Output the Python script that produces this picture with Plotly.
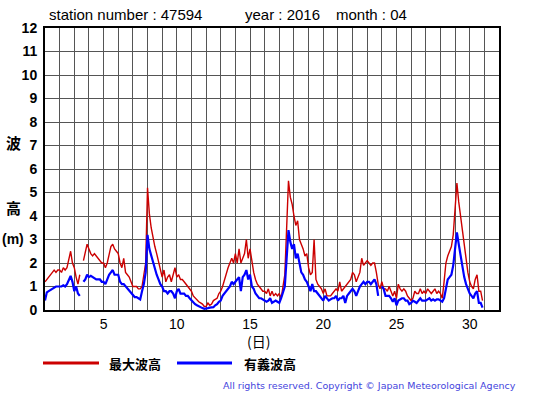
import plotly.graph_objects as go

# ---- data (3-hourly readings, April 2016) ----
days = list(range(1, 31))
steps_per_day = 8

max_wave = [
    1.2, 1.3, 1.4, 1.5, 1.6, 1.7, 1.6, 1.7,
    1.7, 1.6, 1.8, 1.7, 1.8, 2.1, 2.5, 2.0,
    1.8, 1.4, 1.1, 1.5, None, 2.1, 2.4, 2.8,
    2.6, 2.4, 2.3, 2.4, 2.3, 2.2, 2.1, 2.0,
    2.0, 1.8, 2.0, 2.4, 2.7, 2.8, 2.6, 2.5,
    2.4, 2.0, 1.8, 2.2, 1.6, 1.5, 1.4, 1.2,
    1.0, 1.0, 1.0, 0.9, 0.9, 1.0, 1.5, 2.0,
    5.2, 4.1, 3.5, 3.0, 2.7, 2.4, 2.1, 1.8,
    1.4, 1.7, 1.2, 1.4, 1.5, 1.2, 1.5, 1.8,
    1.4, 1.5, 1.3, 1.3, 1.2, 1.1, 1.0, 0.9,
    0.8, 0.6, 0.5, 0.4, 0.35, 0.3, 0.25, 0.15,
    0.15, 0.3, 0.2, 0.25, 0.4, 0.45, 0.5, 0.7,
    0.8, 1.0, 1.3, 1.6, 1.8, 2.0, 2.2, 2.0,
    2.4, 2.0, 2.6, 2.0, 2.2, 2.4, 3.0, 2.2,
    2.6, 2.0, 1.6, 1.3, 1.1, 1.0, 0.9, 0.8,
    0.8, 0.7, 0.9, 0.6, 0.8, 0.6, 0.7, 0.6,
    0.7, 0.5, 1.0, 1.5, 3.5, 5.5, 4.8, 4.5,
    4.0, 3.6, 3.8, 3.0, 2.8, 2.6, 2.3, 2.4,
    1.8, 1.5, 1.6, 3.0, 1.3, 1.1, 1.0, 0.9,
    0.7, 0.9, 0.6, 0.6, 0.6, 0.7, 0.8, 0.9,
    0.8, 1.2, 0.8, 0.9, 1.0, 1.1, 1.2, 1.3,
    1.6, 1.5, 1.2, 1.4, 1.6, 2.2, 1.9, 2.0,
    2.1, 2.0, 1.9, 2.0, 2.0, 1.6, 1.1, 0.9,
    1.2, 0.9, 0.9, 0.8, 1.0, 0.8, 0.6, 0.8,
    0.5, 1.1, 0.9, 0.8, 0.9, 0.8, 0.6, 0.5,
    0.4, 0.5, 0.8, 0.7, 0.7, 0.9, 0.7, 0.8,
    0.7, 0.9, 0.8, 0.7, 0.8, 0.9, 0.7, 0.8,
    0.7, 0.5, 1.2, 2.0, 2.3, 2.5, 2.7, 3.2,
    4.3, 5.4, 4.6, 4.0, 3.3, 2.6, 2.0, 1.6,
    1.2, 1.0, 0.9, 1.3, 1.5, 0.8, 0.8, 0.4,
]

sig_wave = [
    0.4, 0.75, 0.8, 0.85, 0.9, 0.95, 1.0, 1.0,
    1.0, 1.0, 1.05, 1.0, 1.1, 1.3, 1.45, 1.2,
    0.8, 1.0, 0.7, 0.6, None, 1.2, 1.3, 1.5,
    1.4, 1.45, 1.4, 1.35, 1.3, 1.3, 1.3, 1.2,
    1.2, 1.1, 1.3, 1.5, 1.6, 1.7, 1.5, 1.5,
    1.5, 1.2, 1.1, 1.1, 1.0, 0.9, 0.8, 0.7,
    0.6, 0.55, 0.55, 0.5, 0.45, 0.8, 1.1, 1.6,
    3.2, 2.6, 2.3, 2.0, 1.8, 1.5, 1.3, 1.1,
    1.0, 0.8, 0.8, 0.7, 0.8, 0.8, 0.7, 0.5,
    0.8, 0.9, 0.7, 0.7, 0.7, 0.6, 0.6, 0.5,
    0.4, 0.3, 0.25, 0.2, 0.15, 0.1, 0.08, 0.05,
    0.05, 0.08, 0.1, 0.1, 0.12, 0.2, 0.25, 0.35,
    0.4, 0.6, 0.7, 0.8, 0.9, 1.0, 1.2, 1.1,
    1.2, 1.3, 1.4, 0.8, 1.4, 1.5, 1.7, 1.3,
    1.5, 1.0, 0.9, 0.7, 0.6, 0.5, 0.5, 0.45,
    0.4, 0.35, 0.4, 0.5, 0.3, 0.35, 0.4, 0.35,
    0.3, 0.5, 0.8, 1.0, 2.2, 3.4, 2.9, 2.6,
    2.8, 2.2, 2.4, 1.9, 1.6, 1.5, 1.3, 1.2,
    1.0, 0.8, 1.1, 0.8, 0.8, 0.7, 0.6, 0.5,
    0.4, 0.6, 0.5, 0.4, 0.45, 0.5, 0.5, 0.6,
    0.4, 0.5, 0.5, 0.6, 0.3, 0.6, 0.7, 0.8,
    0.9, 0.8, 0.6, 0.8, 1.0, 1.1, 1.2, 1.1,
    1.2, 1.2, 1.1, 1.2, 1.3, 1.1, 0.6, None,
    1.0, 0.9, 0.6, 0.6, 0.6, 0.5, 0.35, 0.5,
    0.2, 0.4, 0.45, 0.5, 0.5, 0.4, 0.4, 0.25,
    0.3, 0.4, 0.35, 0.3, 0.4, 0.5, 0.4, 0.4,
    0.4, 0.45, 0.5, 0.4, 0.45, 0.4, 0.45, 0.45,
    0.4, 0.35, 0.5, 1.0, 1.3, 1.4, 1.5, 1.9,
    2.7, 3.3, 2.8, 2.3, 2.0, 1.4, 1.1, 0.9,
    0.7, 0.6, 0.5, 0.7, 0.8, 0.3, 0.3, 0.1,
]

x_tick_vals = [5, 10, 15, 20, 25, 30]
y_tick_vals = list(range(0, 13))
series_names = ["最大波高", "有義波高"]
title_parts = ["station number : 47594", "year : 2016", "month : 04"]
copyright_text = "All rights reserved. Copyright © Japan Meteorological Agency"

# time axis in days (day + fraction)
times = [d + k / steps_per_day for d in days for k in range(steps_per_day)]

RED = "#cc0000"
BLUE = "#0000ff"
W, H = 555, 395
L, R, T, B = 45, 499, 28, 310


def px(x):
    return (x - L) / (R - L)


def py(y):
    return (B - y) / (B - T)


fig = go.Figure()
fig.add_trace(go.Scatter(x=times, y=max_wave, mode="lines", name=series_names[0],
                         line=dict(color=RED, width=1.4), connectgaps=False,
                         showlegend=False))
fig.add_trace(go.Scatter(x=times, y=sig_wave, mode="lines", name=series_names[1],
                         line=dict(color=BLUE, width=2.2), connectgaps=False,
                         showlegend=False))

grid_col = "#555555"
fig.update_xaxes(range=[1, 32], tick0=0, dtick=5, tickvals=x_tick_vals,
                 showgrid=True, gridcolor=grid_col, gridwidth=1,
                 minor=dict(dtick=1, tick0=0, showgrid=True, gridcolor=grid_col, gridwidth=1),
                 showline=True, linecolor="black", linewidth=2, mirror=True,
                 ticks="", zeroline=False,
                 tickfont=dict(family="Liberation Sans, Arial", size=14, color="black"))
fig.update_yaxes(range=[0, 12], tickvals=y_tick_vals, dtick=1,
                 showgrid=True, gridcolor=grid_col, gridwidth=1,
                 showline=True, linecolor="black", linewidth=2, mirror=True,
                 ticks="", zeroline=False, ticklabelstandoff=3,
                 tickfont=dict(family="Liberation Sans, Arial", size=14, color="black",
                               weight="bold"))

ann = []
title_x = [47, 243, 334]
for t, xx in zip(title_parts, title_x):
    ann.append(dict(text=t, x=px(xx), y=py(15), xref="paper", yref="paper",
                    xanchor="left", yanchor="middle", showarrow=False,
                    font=dict(family="Liberation Sans, Arial", size=15, color="black")))

cjk = "Noto Sans CJK JP"
ann.append(dict(text="波", x=px(13), y=py(142), xref="paper", yref="paper",
                xanchor="center", yanchor="middle", showarrow=False,
                font=dict(family=cjk, size=15, color="black", weight="bold")))
ann.append(dict(text="高", x=px(13), y=py(207), xref="paper", yref="paper",
                xanchor="center", yanchor="middle", showarrow=False,
                font=dict(family=cjk, size=15, color="black", weight="bold")))
ann.append(dict(text="(m)", x=px(13), y=py(239), xref="paper", yref="paper",
                xanchor="center", yanchor="middle", showarrow=False,
                font=dict(family="Liberation Sans, Arial", size=14, color="black", weight="bold")))
ann.append(dict(text="(日)", x=px(258), y=py(341), xref="paper", yref="paper",
                xanchor="center", yanchor="middle", showarrow=False,
                font=dict(family=cjk, size=14, color="black")))

# legend
ann.append(dict(text=series_names[0], x=px(107), y=py(363), xref="paper", yref="paper",
                xanchor="left", yanchor="middle", showarrow=False,
                font=dict(family=cjk, size=13, color="black", weight="bold")))
ann.append(dict(text=series_names[1], x=px(242), y=py(363), xref="paper", yref="paper",
                xanchor="left", yanchor="middle", showarrow=False,
                font=dict(family=cjk, size=13, color="black", weight="bold")))
ann.append(dict(text=copyright_text, x=px(518), y=py(385), xref="paper", yref="paper",
                xanchor="right", yanchor="middle", showarrow=False,
                font=dict(family="DejaVu Sans", size=9.5, color="#4444dd")))

shapes = [
    dict(type="line", xref="paper", yref="paper", x0=px(43), x1=px(99),
         y0=py(363), y1=py(363), line=dict(color=RED, width=3)),
    dict(type="line", xref="paper", yref="paper", x0=px(177), x1=px(232),
         y0=py(363), y1=py(363), line=dict(color=BLUE, width=3)),
]

fig.update_layout(width=W, height=H, margin=dict(l=L, r=W - R, t=T, b=H - B),
                  paper_bgcolor="white", plot_bgcolor="white",
                  annotations=ann, shapes=shapes, showlegend=False)

fig.write_html("out.html", config={"displayModeBar": False},
               post_script="document.body.style.margin='0';document.body.style.overflow='hidden';")
